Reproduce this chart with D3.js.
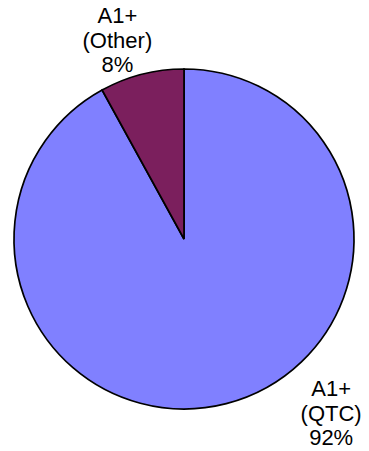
<!DOCTYPE html>
<html>
<head>
<meta charset="utf-8">
<script src="https://cdn.jsdelivr.net/npm/d3@7"></script>
<style>
  html, body { margin: 0; padding: 0; background: #fff; }
  svg { display: block; }
</style>
</head>
<body>
<script>
// Share of A1+ ratings
const categories = ["A1+ (QTC)", "A1+ (Other)"];
const labelLines = [["A1+", "(QTC)"], ["A1+", "(Other)"]];
const values = [92, 8];
const colors = ["#8080FF", "#7B1F5D"];

const width = 369, height = 451;
const cx = 184, cy = 239, radius = 170;

const svg = d3.select("body").append("svg")
  .attr("width", width)
  .attr("height", height);

const g = svg.append("g").attr("transform", `translate(${cx},${cy})`);

const pie = d3.pie().sort(null).value(d => d.value);
const arcs = pie(categories.map((c, i) => ({ name: c, value: values[i], lines: labelLines[i], color: colors[i] })));

const arc = d3.arc().innerRadius(0).outerRadius(radius);

g.selectAll("path.slice")
  .data(arcs)
  .join("path")
  .attr("class", "slice")
  .attr("d", arc)
  .attr("fill", d => d.data.color)
  .attr("stroke", "#000")
  .attr("stroke-width", 1.7)
  .attr("stroke-linejoin", "miter");

// Label placement outside the pie (angle in degrees clockwise from 12 o'clock, distance from centre)
const labelPlacement = [
  { angle: 139.8, dist: 228 },
  { angle: -18.5, dist: 210 }
];

const fontSize = 22, lineH = 24.5;

g.selectAll("text.lbl")
  .data(arcs)
  .join("text")
  .attr("class", "lbl")
  .attr("text-anchor", "middle")
  .attr("font-family", "'Liberation Sans', Arial, sans-serif")
  .attr("font-size", fontSize)
  .attr("fill", "#000")
  .each(function(d, i) {
    const p = labelPlacement[i];
    const a = p.angle * Math.PI / 180;
    const x = Math.sin(a) * p.dist;
    const y = -Math.cos(a) * p.dist;
    const total = d3.sum(values);
    const lines = [...d.data.lines, Math.round(d.data.value / total * 100) + "%"];
    const t = d3.select(this);
    lines.forEach((ln, k) => {
      t.append("tspan")
        .attr("x", x)
        .attr("y", y + (k - (lines.length - 1) / 2) * lineH + fontSize * 0.35)
        .text(ln);
    });
  });
</script>
</body>
</html>
